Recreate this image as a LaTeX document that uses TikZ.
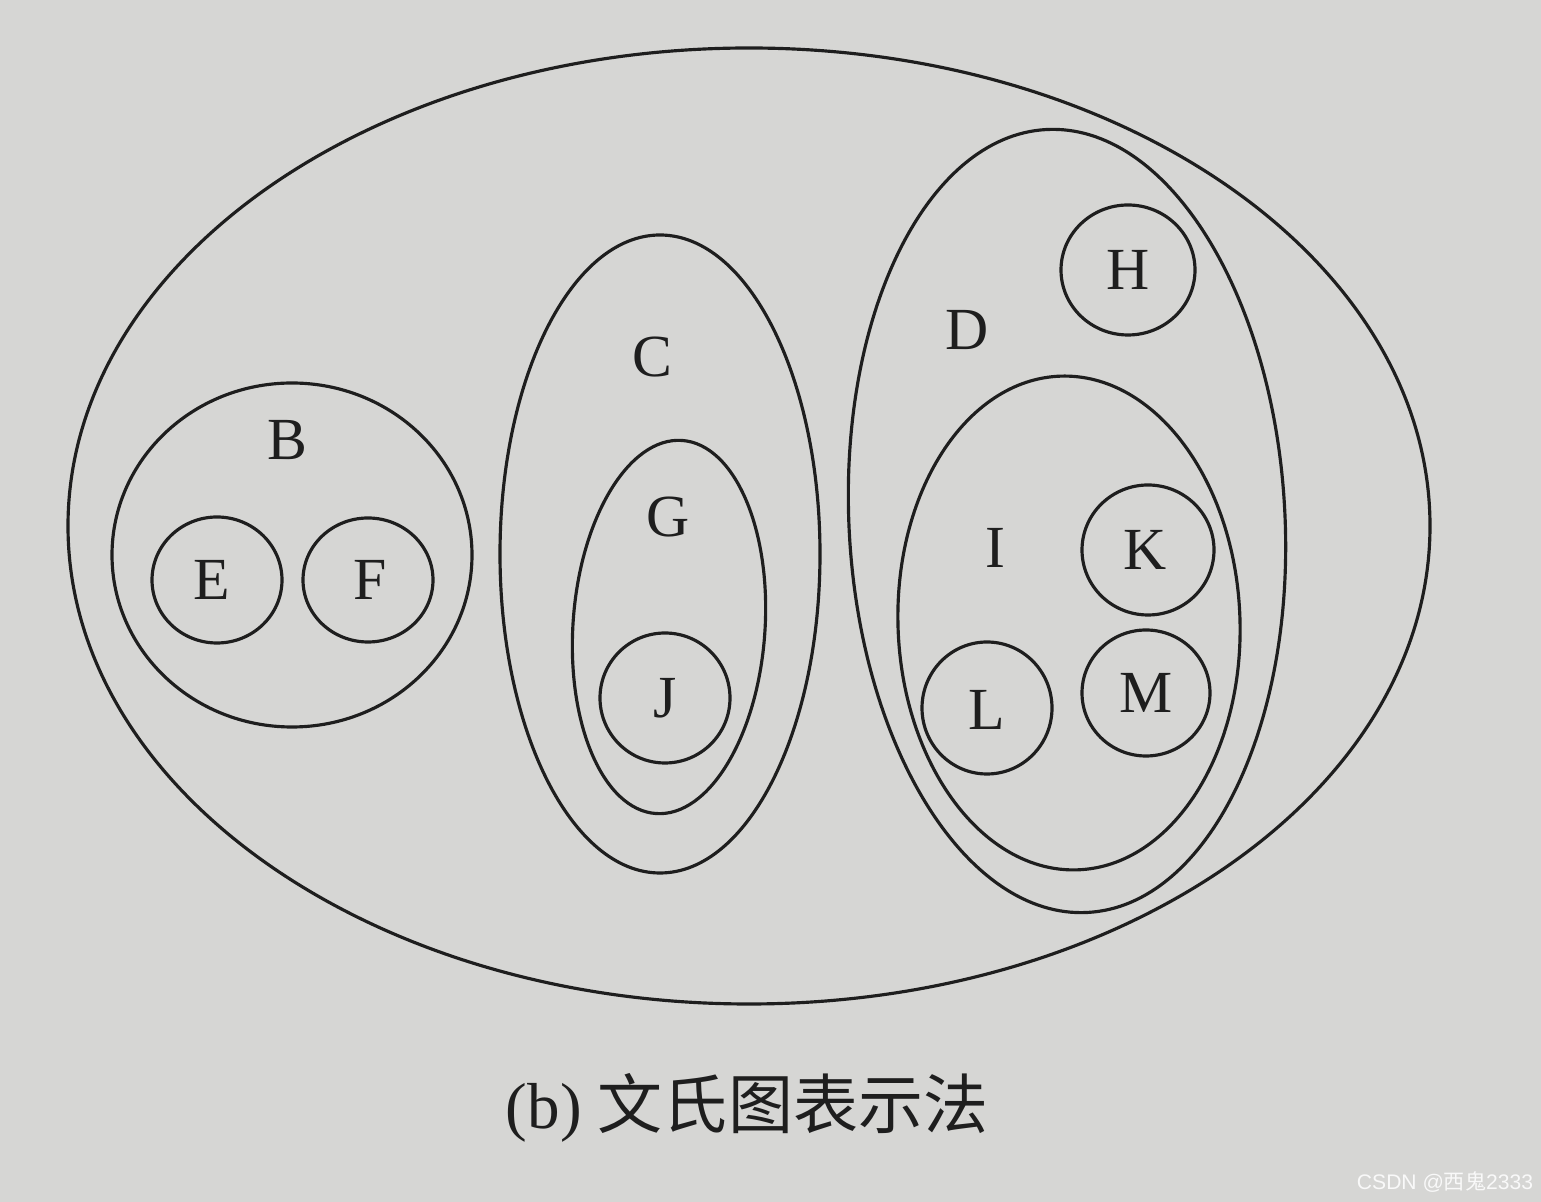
\documentclass[tikz,border=0pt]{standalone}
\usepackage{fontspec}
\setmainfont{Liberation Serif}
\newfontfamily\cjk{Noto Sans CJK SC}
\newfontfamily\wmfont{Liberation Sans}
\usepackage{xcolor}
\usepackage{tikz}
\definecolor{paper}{RGB}{214,214,212}
\definecolor{ink}{RGB}{30,30,30}

\begin{document}
\begin{tikzpicture}[line width=0.9pt,draw=ink,
  setlabel/.style={text=ink,font=\fontsize{17}{17}\selectfont}]
\fill[paper] (0,0) rectangle (15.41,-12.02);
\useasboundingbox (0,0) rectangle (15.41,-12.02);
% outer set A
\draw (7.49,-5.26) ellipse (6.81cm and 4.78cm);
% B with E and F
\draw (2.92,-5.55) ellipse (1.80cm and 1.72cm);
  \node[setlabel] (B) at (2.87,-4.40) {B};
  \draw (2.17,-5.80) ellipse (0.65cm and 0.63cm);
  \node[setlabel] (E) at (2.12,-5.80) {E};
  \draw (3.68,-5.80) ellipse (0.65cm and 0.62cm);
  \node[setlabel] (F) at (3.70,-5.80) {F};
% C with G and J
\draw[rotate around={0:(6.60,-5.54)}] (6.60,-5.54) ellipse (1.60cm and 3.19cm);
  \node[setlabel] (C) at (6.52,-3.57) {C};
  \draw[rotate around={-4:(6.69,-6.27)}] (6.69,-6.27) ellipse (0.96cm and 1.87cm);
  \node[setlabel] (G) at (6.68,-5.17) {G};
  \draw (6.65,-6.98) circle (0.65cm);
  \node[setlabel] (J) at (6.65,-6.98) {J};
% D with H and I
\draw[rotate around={3:(10.67,-5.21)}] (10.67,-5.21) ellipse (2.18cm and 3.92cm);
  \node[setlabel] (D) at (9.67,-3.30) {D};
  \draw (11.28,-2.70) ellipse (0.67cm and 0.65cm);
  \node[setlabel] (H) at (11.28,-2.70) {H};
  \draw[rotate around={2:(10.69,-6.23)}] (10.69,-6.23) ellipse (1.71cm and 2.47cm);
  \node[setlabel] (I) at (9.95,-5.48) {I};
  \draw (11.48,-5.50) ellipse (0.66cm and 0.65cm);
  \node[setlabel] (K) at (11.45,-5.50) {K};
  \draw (11.46,-6.93) ellipse (0.64cm and 0.63cm);
  \node[setlabel] (M) at (11.46,-6.93) {M};
  \draw (9.87,-7.08) ellipse (0.65cm and 0.66cm);
  \node[setlabel] (L) at (9.87,-7.10) {L};
% caption and watermark
\node[text=ink,font=\fontsize{18.5}{18.5}\selectfont] (caption) at (7.47,-11.08) {(b) {\cjk 文氏图表示法}};
\node[text=white!85!paper,font=\wmfont\fontsize{6}{6}\selectfont] (mark) at (14.45,-11.82) {CSDN @{\cjk 西鬼}2333};
\end{tikzpicture}
\end{document}
